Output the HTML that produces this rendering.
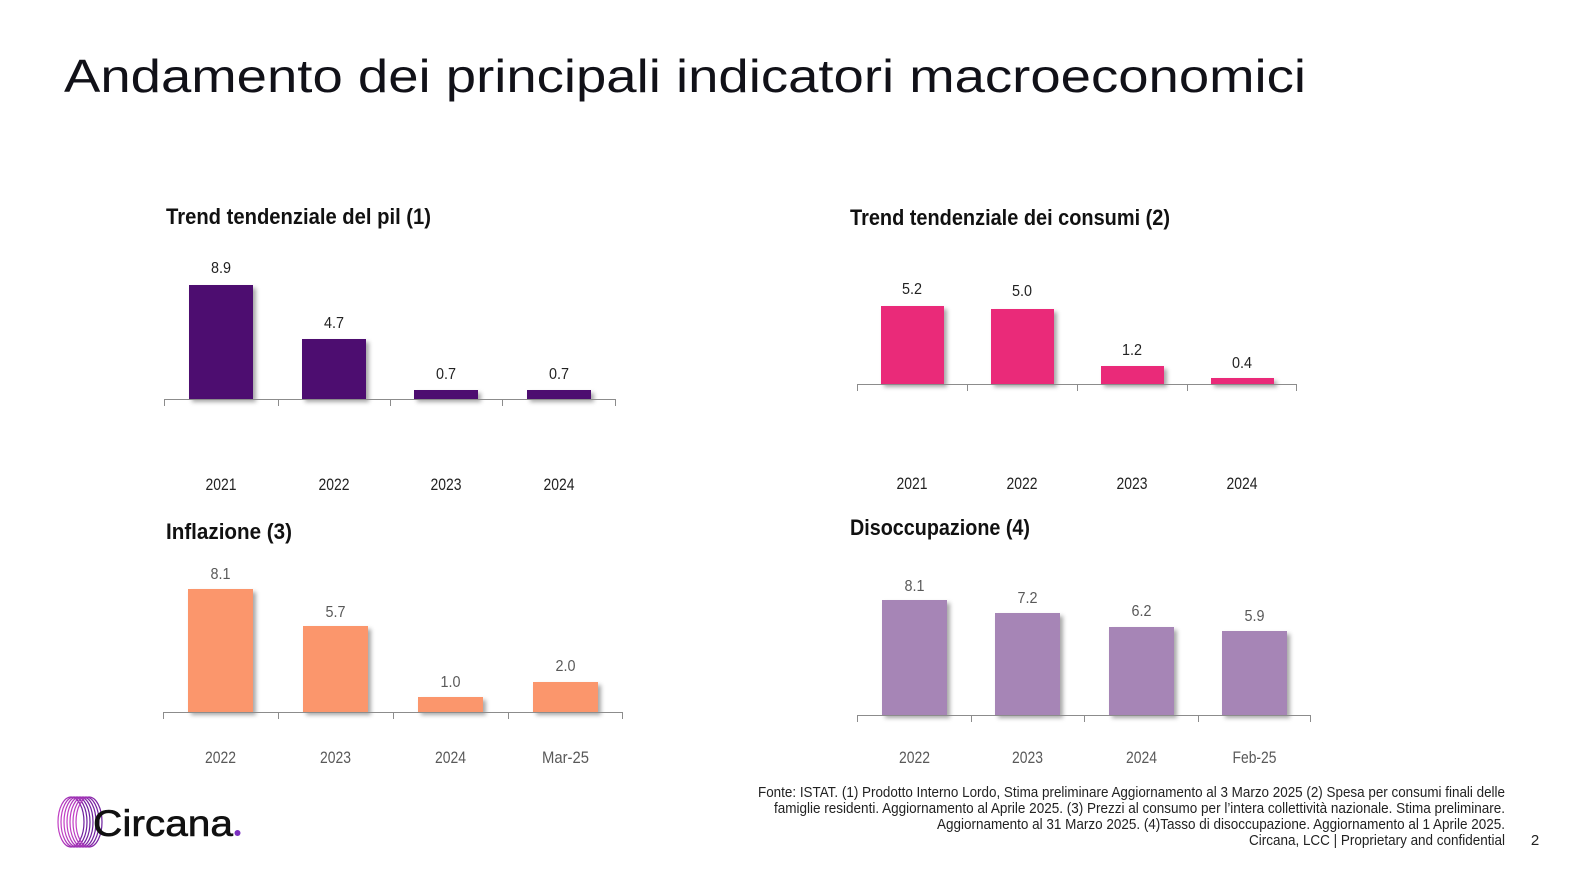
<!DOCTYPE html>
<html>
<head>
<meta charset="utf-8">
<style>
  html, body { margin: 0; padding: 0; background: #ffffff; }
  body { width: 1592px; height: 886px; overflow: hidden; }
  svg { display: block; }
  .ttl { font-family: "Liberation Sans", sans-serif; fill: #111118; }
  .ct { font-family: "Liberation Sans Narrow", "Liberation Sans", sans-serif; font-weight: bold; fill: #111111; font-size: 22px; }
  .vl { font-family: "Liberation Sans Narrow", "Liberation Sans", sans-serif; font-size: 16px; }
  .xl { font-family: "Liberation Sans Narrow", "Liberation Sans", sans-serif; font-size: 17px; }
  .fn { font-family: "Liberation Sans Narrow", "Liberation Sans", sans-serif; font-size: 15px; fill: #222222; }
</style>
</head>
<body>
<svg width="1592" height="886" viewBox="0 0 1592 886" xmlns="http://www.w3.org/2000/svg">
  <defs>
    <filter id="sh" x="-20%" y="-20%" width="150%" height="150%">
      <feDropShadow dx="3" dy="3" stdDeviation="2" flood-color="#000" flood-opacity="0.35"/>
    </filter>
    <linearGradient id="rg" x1="0" y1="0" x2="1" y2="0">
      <stop offset="0" stop-color="#c23fc4"/>
      <stop offset="1" stop-color="#6a1d9c"/>
    </linearGradient>
  </defs>
  <rect width="1592" height="886" fill="#ffffff"/>

  <!-- Main title -->
  <text class="ttl" x="64" y="92" font-size="46" textLength="1242" lengthAdjust="spacingAndGlyphs">Andamento dei principali indicatori macroeconomici</text>

  <!-- ===== Chart 1: PIL ===== -->
  <text class="ct" x="166" y="224" textLength="265" lengthAdjust="spacingAndGlyphs">Trend tendenziale del pil (1)</text>
  <g fill="#4e106f" filter="url(#sh)">
    <rect x="189" y="285" width="64" height="114"/>
    <rect x="302" y="339" width="64" height="60"/>
    <rect x="414" y="390" width="64" height="9"/>
    <rect x="527" y="390" width="64" height="9"/>
  </g>
  <g stroke="#8c8c8c" stroke-width="1">
    <line x1="164" y1="399.5" x2="616" y2="399.5"/>
    <line x1="164.5" y1="399" x2="164.5" y2="406"/>
    <line x1="278.5" y1="399" x2="278.5" y2="406"/>
    <line x1="390.5" y1="399" x2="390.5" y2="406"/>
    <line x1="502.5" y1="399" x2="502.5" y2="406"/>
    <line x1="615.5" y1="399" x2="615.5" y2="406"/>
  </g>
  <g class="vl" fill="#222222" text-anchor="middle" lengthAdjust="spacingAndGlyphs">
    <text x="221" y="273" textLength="20" lengthAdjust="spacingAndGlyphs">8.9</text>
    <text x="334" y="328" textLength="20" lengthAdjust="spacingAndGlyphs">4.7</text>
    <text x="446" y="379" textLength="20" lengthAdjust="spacingAndGlyphs">0.7</text>
    <text x="559" y="379" textLength="20" lengthAdjust="spacingAndGlyphs">0.7</text>
  </g>
  <g class="xl" fill="#222222" text-anchor="middle">
    <text x="221" y="490" textLength="31" lengthAdjust="spacingAndGlyphs">2021</text>
    <text x="334" y="490" textLength="31" lengthAdjust="spacingAndGlyphs">2022</text>
    <text x="446" y="490" textLength="31" lengthAdjust="spacingAndGlyphs">2023</text>
    <text x="559" y="490" textLength="31" lengthAdjust="spacingAndGlyphs">2024</text>
  </g>

  <!-- ===== Chart 2: Consumi ===== -->
  <text class="ct" x="850" y="225" textLength="320" lengthAdjust="spacingAndGlyphs">Trend tendenziale dei consumi (2)</text>
  <g fill="#ea2b79" filter="url(#sh)">
    <rect x="881" y="306" width="63" height="78"/>
    <rect x="991" y="309" width="63" height="75"/>
    <rect x="1101" y="366" width="63" height="18"/>
    <rect x="1211" y="378" width="63" height="6"/>
  </g>
  <g stroke="#8c8c8c" stroke-width="1">
    <line x1="857" y1="384.5" x2="1297" y2="384.5"/>
    <line x1="857.5" y1="384" x2="857.5" y2="391"/>
    <line x1="967.5" y1="384" x2="967.5" y2="391"/>
    <line x1="1077.5" y1="384" x2="1077.5" y2="391"/>
    <line x1="1187.5" y1="384" x2="1187.5" y2="391"/>
    <line x1="1296.5" y1="384" x2="1296.5" y2="391"/>
  </g>
  <g class="vl" fill="#222222" text-anchor="middle">
    <text x="912" y="294" textLength="20" lengthAdjust="spacingAndGlyphs">5.2</text>
    <text x="1022" y="296" textLength="20" lengthAdjust="spacingAndGlyphs">5.0</text>
    <text x="1132" y="355" textLength="20" lengthAdjust="spacingAndGlyphs">1.2</text>
    <text x="1242" y="368" textLength="20" lengthAdjust="spacingAndGlyphs">0.4</text>
  </g>
  <g class="xl" fill="#222222" text-anchor="middle">
    <text x="912" y="489" textLength="31" lengthAdjust="spacingAndGlyphs">2021</text>
    <text x="1022" y="489" textLength="31" lengthAdjust="spacingAndGlyphs">2022</text>
    <text x="1132" y="489" textLength="31" lengthAdjust="spacingAndGlyphs">2023</text>
    <text x="1242" y="489" textLength="31" lengthAdjust="spacingAndGlyphs">2024</text>
  </g>

  <!-- ===== Chart 3: Inflazione ===== -->
  <text class="ct" x="166" y="539" textLength="126" lengthAdjust="spacingAndGlyphs">Inflazione (3)</text>
  <g fill="#fb966c" filter="url(#sh)">
    <rect x="188" y="589" width="65" height="123"/>
    <rect x="303" y="626" width="65" height="86"/>
    <rect x="418" y="697" width="65" height="15"/>
    <rect x="533" y="682" width="65" height="30"/>
  </g>
  <g stroke="#8c8c8c" stroke-width="1">
    <line x1="163" y1="712.5" x2="623" y2="712.5"/>
    <line x1="163.5" y1="712" x2="163.5" y2="719"/>
    <line x1="278.5" y1="712" x2="278.5" y2="719"/>
    <line x1="393.5" y1="712" x2="393.5" y2="719"/>
    <line x1="508.5" y1="712" x2="508.5" y2="719"/>
    <line x1="622.5" y1="712" x2="622.5" y2="719"/>
  </g>
  <g class="vl" fill="#595959" text-anchor="middle">
    <text x="220.5" y="579" textLength="20" lengthAdjust="spacingAndGlyphs">8.1</text>
    <text x="335.5" y="617" textLength="20" lengthAdjust="spacingAndGlyphs">5.7</text>
    <text x="450.5" y="687" textLength="20" lengthAdjust="spacingAndGlyphs">1.0</text>
    <text x="565.5" y="671" textLength="20" lengthAdjust="spacingAndGlyphs">2.0</text>
  </g>
  <g class="xl" fill="#595959" text-anchor="middle">
    <text x="220.5" y="763" textLength="31" lengthAdjust="spacingAndGlyphs">2022</text>
    <text x="335.5" y="763" textLength="31" lengthAdjust="spacingAndGlyphs">2023</text>
    <text x="450.5" y="763" textLength="31" lengthAdjust="spacingAndGlyphs">2024</text>
    <text x="565.5" y="763" textLength="47" lengthAdjust="spacingAndGlyphs">Mar-25</text>
  </g>

  <!-- ===== Chart 4: Disoccupazione ===== -->
  <text class="ct" x="850" y="535" textLength="180" lengthAdjust="spacingAndGlyphs">Disoccupazione (4)</text>
  <g fill="#a685b6" filter="url(#sh)">
    <rect x="882" y="600" width="65" height="115"/>
    <rect x="995" y="613" width="65" height="102"/>
    <rect x="1109" y="627" width="65" height="88"/>
    <rect x="1222" y="631" width="65" height="84"/>
  </g>
  <g stroke="#8c8c8c" stroke-width="1">
    <line x1="857" y1="715.5" x2="1311" y2="715.5"/>
    <line x1="857.5" y1="715" x2="857.5" y2="722"/>
    <line x1="971.5" y1="715" x2="971.5" y2="722"/>
    <line x1="1084.5" y1="715" x2="1084.5" y2="722"/>
    <line x1="1198.5" y1="715" x2="1198.5" y2="722"/>
    <line x1="1310.5" y1="715" x2="1310.5" y2="722"/>
  </g>
  <g class="vl" fill="#595959" text-anchor="middle">
    <text x="914.5" y="591" textLength="20" lengthAdjust="spacingAndGlyphs">8.1</text>
    <text x="1027.5" y="603" textLength="20" lengthAdjust="spacingAndGlyphs">7.2</text>
    <text x="1141.5" y="616" textLength="20" lengthAdjust="spacingAndGlyphs">6.2</text>
    <text x="1254.5" y="621" textLength="20" lengthAdjust="spacingAndGlyphs">5.9</text>
  </g>
  <g class="xl" fill="#595959" text-anchor="middle">
    <text x="914.5" y="763" textLength="31" lengthAdjust="spacingAndGlyphs">2022</text>
    <text x="1027.5" y="763" textLength="31" lengthAdjust="spacingAndGlyphs">2023</text>
    <text x="1141.5" y="763" textLength="31" lengthAdjust="spacingAndGlyphs">2024</text>
    <text x="1254.5" y="763" textLength="44" lengthAdjust="spacingAndGlyphs">Feb-25</text>
  </g>

  <!-- ===== Footnote ===== -->
  <g class="fn" text-anchor="end">
    <text x="1505" y="797" textLength="747" lengthAdjust="spacingAndGlyphs">Fonte: ISTAT. (1) Prodotto Interno Lordo, Stima preliminare Aggiornamento al 3 Marzo 2025 (2) Spesa per consumi finali delle</text>
    <text x="1505" y="813" textLength="731" lengthAdjust="spacingAndGlyphs">famiglie residenti. Aggiornamento al Aprile 2025. (3) Prezzi al consumo per l’intera collettività nazionale. Stima preliminare.</text>
    <text x="1505" y="829" textLength="568" lengthAdjust="spacingAndGlyphs">Aggiornamento al 31 Marzo 2025. (4)Tasso di disoccupazione. Aggiornamento al 1 Aprile 2025.</text>
    <text x="1505" y="845" textLength="256" lengthAdjust="spacingAndGlyphs">Circana, LCC |  Proprietary and confidential</text>
  </g>
  <text class="fn" x="1535" y="845" text-anchor="middle">2</text>

  <!-- ===== Logo ===== -->
  <g fill="none" stroke="url(#rg)" stroke-width="1.2">
    <ellipse cx="71" cy="822" rx="13" ry="25"/>
    <ellipse cx="74" cy="822" rx="13" ry="25"/>
    <ellipse cx="77" cy="822" rx="13" ry="25"/>
    <ellipse cx="80" cy="822" rx="13" ry="25"/>
    <ellipse cx="83" cy="822" rx="13" ry="25"/>
    <ellipse cx="86" cy="822" rx="13" ry="25"/>
    <ellipse cx="89" cy="822" rx="13" ry="25"/>
  </g>
  <text x="93" y="836" font-family="Liberation Sans, sans-serif" font-size="37" fill="#111111" stroke="#111111" stroke-width="0.6" textLength="140" lengthAdjust="spacingAndGlyphs">Circana</text>
  <circle cx="237.5" cy="833" r="3" fill="#7b2fbf"/>
</svg>
</body>
</html>
